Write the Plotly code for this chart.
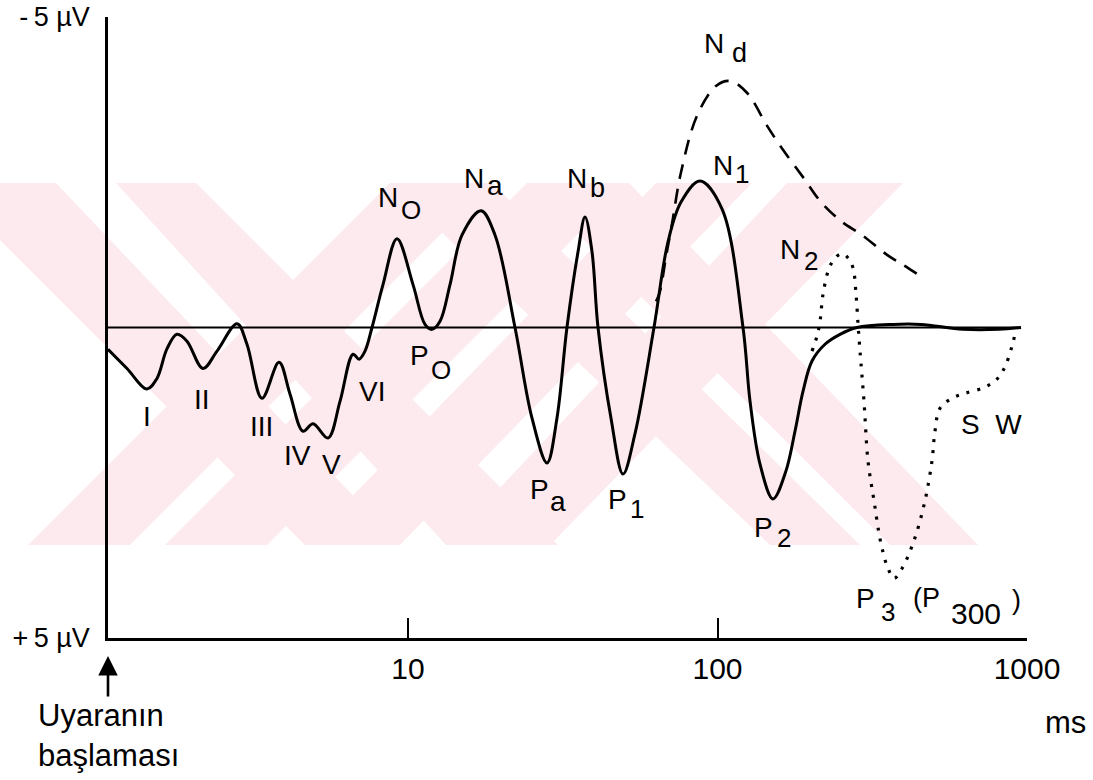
import math
import plotly.graph_objects as go

# ---------------- data (time in ms, amplitude in µV; negative is drawn upward) -------------
main_ms = [1.073, 1.236, 1.435, 1.545, 1.665, 1.793, 1.931, 2.176, 2.415, 2.804, 3.018, 3.375,
           3.830, 4.156, 4.578, 4.934, 5.514, 6.030, 6.643, 6.946, 7.263, 7.650, 8.303, 9.215,
           10.38, 11.35, 11.96, 12.69, 13.67, 14.95, 17.22, 19.10, 22.17, 25.16, 28.13, 30.29,
           32.63, 35.43, 37.32, 39.31, 41.11, 45.28, 49.51, 54.13, 62.34, 69.20, 76.23, 87.80,
           103.4, 120.9, 127.4, 137.2, 151.1, 166.4, 178.0, 188.9, 202.0, 222.5, 248.8, 282.3,
           369.0, 454.5, 621.2, 811.8, 956.4]
main_uv = [0.35, 0.66, 0.99, 0.82, 0.34, 0.11, 0.22, 0.66, 0.38, -0.06, 0.27, 1.14,
           0.56, 1.07, 1.67, 1.55, 1.78, 1.19, 0.43, 0.51, 0.38, 0.0, -0.69, -1.43,
           -0.69, -0.05, 0.03, -0.10, -0.69, -1.49, -1.88, -1.49, 0.0, 1.46, 2.18, 1.46,
           0.0, -1.22, -1.78, -1.22, 0.0, 1.46, 2.36, 1.71, 0.0, -1.38, -2.02, -2.36,
           -1.91, 0.0, 1.19, 2.20, 2.76, 2.31, 1.67, 1.03, 0.54, 0.27, 0.11, 0.0,
           -0.05, -0.05, 0.03, 0.03, 0.0]

nd_ms = [63.3, 65.17, 68.18, 71.29, 76.23, 85.86, 98.89, 109.8, 124.5, 144.5, 159.2, 190.3,
         216.0, 252.6, 293.0, 353.0, 397.7, 464.8]
nd_uv = [-0.42, -0.58, -1.14, -1.67, -2.50, -3.41, -3.89, -3.97, -3.78, -3.25, -2.93, -2.40,
         -2.02, -1.70, -1.49, -1.17, -1.01, -0.79]

p3_ms = [202.0, 209.6, 214.4, 219.2, 229.2, 239.7, 252.6, 264.1, 274.1, 280.3, 284.5, 288.7,
         297.4, 306.4, 320.4, 337.5, 355.6, 371.8, 394.6, 431.5, 468.1, 493.1, 504.3, 523.4,
         572.4, 630.5, 731.6, 800.0, 849.0, 894.5, 921.6]
p3_uv = [0.38, 0.14, -0.10, -0.53, -0.95, -1.12, -1.19, -1.12, -0.96, -0.53, -0.05, 0.38,
         1.19, 2.15, 2.79, 3.48, 3.88, 4.04, 3.88, 3.43, 2.79, 2.15, 1.67, 1.30,
         1.14, 1.06, 0.96, 0.83, 0.63, 0.30, 0.03]

base_ms = [1.073, 956.4]
base_uv = [0.0, 0.0]

x_tickvals = [10, 100, 1000]
x_ticktext = ["10", "100", "1000"]
y_tickvals = [-5, 5]
y_ticktext = ["-\u20095 µV", "+\u20095 µV"]

# ---------------- layout geometry (pixels) ----------------
W, H = 1093, 780
L, R, T, B = 108, 66, 17, 142
PW, PH = W - L - R, H - T - B
FONT = "Liberation Sans, Arial, Helvetica, sans-serif"


def px(x):
    return (x - L) / PW


def py(y):
    return 1 - (y - T) / PH


fig = go.Figure()

fig.add_trace(go.Scatter(x=base_ms, y=base_uv, mode="lines",
                         line=dict(color="black", width=1.8), hoverinfo="skip"))
fig.add_trace(go.Scatter(x=main_ms, y=main_uv, mode="lines",
                         line=dict(color="black", width=3, shape="spline", smoothing=1.0),
                         hoverinfo="skip"))
fig.add_trace(go.Scatter(x=nd_ms, y=nd_uv, mode="lines",
                         line=dict(color="black", width=2.6, shape="spline", dash="15px,10px"),
                         hoverinfo="skip"))
fig.add_trace(go.Scatter(x=p3_ms, y=p3_uv, mode="lines",
                         line=dict(color="black", width=3.2, shape="spline", dash="3px,8px"),
                         hoverinfo="skip"))

# ---------------- watermark (decorative background stripes) ----------------
WM_TOP, WM_BOT = 183, 545
wm_bands = [(-57, 56, 305, 400), (116, 196, 446, 558),
            (390, 492, 28, 130), (527, 629, 165, 267),
            (656, 752, 305, 400), (787, 903, 446, 550),
            (390, 492, 770, 860), (527, 629, 890, 978)]
shapes = []
for tx0, tx1, bx0, bx1 in wm_bands:
    path = (f"M {px(tx0)} {py(WM_TOP)} L {px(tx1)} {py(WM_TOP)} "
            f"L {px(bx1)} {py(WM_BOT)} L {px(bx0)} {py(WM_BOT)} Z")
    shapes.append(dict(type="path", path=path, xref="paper", yref="paper",
                       fillcolor="#fdeaee", line=dict(width=0), layer="below"))

# ---------------- labels ----------------
labels = [
    ("I", 147, 416, 28), ("II", 202, 399, 28), ("III", 261, 426, 28),
    ("IV", 297, 455, 28), ("V", 331, 464, 28), ("VI", 372, 391, 28),
    ("N", 388, 198, 28), ("O", 411, 210, 26),
    ("P", 419, 355, 28), ("O", 441, 370, 26),
    ("N", 474, 178, 28), ("a", 495, 185, 28),
    ("N", 577, 178, 28), ("b", 597, 188, 27),
    ("N", 723, 166, 28), ("1", 742, 174, 26),
    ("N", 714, 44, 28), ("d", 739, 53, 27),
    ("N", 790, 249, 28), ("2", 811, 261, 26),
    ("P", 539, 489, 28), ("a", 558, 501, 28),
    ("P", 617, 499, 28), ("1", 637, 509, 26),
    ("P", 763, 527, 28), ("2", 784, 538, 26),
    ("P", 865, 598, 28), ("3", 888, 612, 26),
    ("(P", 926, 598, 27), ("300", 976, 613, 30), (")", 1016, 600, 27),
    ("S  W", 991, 424, 28),
]
annotations = []
for text, lx, ly, size in labels:
    annotations.append(dict(text=text, x=px(lx), y=py(ly), xref="paper", yref="paper",
                            xanchor="center", yanchor="middle", showarrow=False,
                            font=dict(family=FONT, size=size, color="black")))

# stimulus onset arrow and captions
annotations.append(dict(text="", x=px(108), y=py(656), xref="paper", yref="paper",
                        showarrow=True, ax=0, ay=42, axref="pixel", ayref="pixel",
                        arrowhead=2, arrowsize=1.5, arrowwidth=2.6, arrowcolor="black"))
annotations.append(dict(text="Uyaranın<br>başlaması", x=px(36), y=py(696),
                        xref="paper", yref="paper", xanchor="left", yanchor="top",
                        align="left", showarrow=False,
                        font=dict(family=FONT, size=31, color="black")))
annotations.append(dict(text="ms", x=px(1065), y=py(722), xref="paper", yref="paper",
                        xanchor="center", yanchor="middle", showarrow=False,
                        font=dict(family=FONT, size=31, color="black")))

fig.update_layout(
    width=W, height=H,
    margin=dict(l=L, r=R, t=T, b=B, autoexpand=False),
    paper_bgcolor="white", plot_bgcolor="rgba(0,0,0,0)",
    showlegend=False,
    shapes=shapes,
    annotations=annotations,
    xaxis=dict(type="log", range=[0.0307, 3.0], showline=True, linecolor="black",
               linewidth=2.6, ticks="inside", ticklen=20, tickwidth=2.4, tickcolor="black",
               tickvals=x_tickvals, ticktext=x_ticktext, showgrid=False, zeroline=False,
               tickfont=dict(family=FONT, size=30, color="black"), ticklabelstandoff=2),
    yaxis=dict(range=[5, -5], showline=True, linecolor="black", linewidth=2.6,
               ticks="inside", ticklen=17, tickwidth=2.4, tickcolor="black",
               tickvals=y_tickvals, ticktext=y_ticktext, showgrid=False, zeroline=False,
               tickfont=dict(family=FONT, size=27, color="black"), ticklabelstandoff=10),
    hovermode=False,
)

fig.write_html("out.html", config={"displayModeBar": False})
